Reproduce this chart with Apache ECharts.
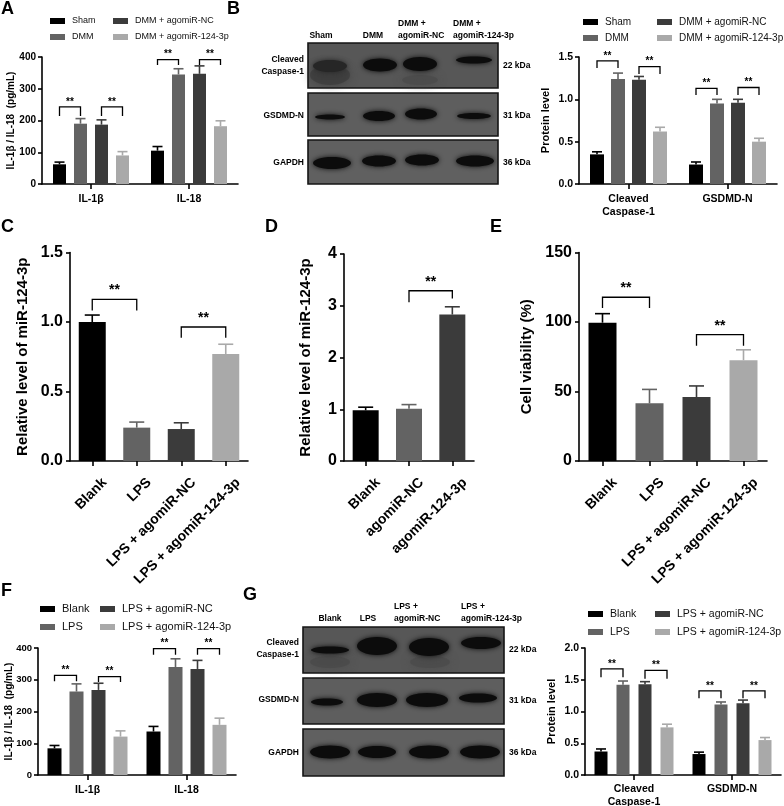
<!DOCTYPE html>
<html>
<head>
<meta charset="utf-8">
<script src="https://cdn.jsdelivr.net/npm/echarts/dist/echarts.min.js"></script>
<style>
html,body{margin:0;padding:0;background:#fff;}
#chart{width:784px;height:806px;}
</style>
</head>
<body>
<div id="chart"></div>
<script>
// ================= DATA =================
// Panel A (in vivo, DMM)
const A_categories = ['IL-1β', 'IL-18'];
const A_groups = ['Sham', 'DMM', 'DMM + agomiR-NC', 'DMM + agomiR-124-3p'];
const A_sham = [62, 105];
const A_sham_err = [7, 13];
const A_dmm = [190, 345];
const A_dmm_err = [16, 18];
const A_nc = [187, 347];
const A_nc_err = [15, 25];
const A_ago = [90, 182];
const A_ago_err = [12, 17];
const A_ticks = [0, 100, 200, 300, 400];
// brackets: [category, groupFrom, groupTo, barY, legEndFrom, legEndTo]
const A_brackets = [[0, 0, 1, 243, 214, 214], [0, 2, 3, 243, 214, 214], [1, 0, 1, 392, 375, 375], [1, 2, 3, 392, 375, 375]];

// Panel B (protein level, DMM)
const B_categories = ['Cleaved\nCaspase-1', 'GSDMD-N'];
const B_sham = [0.35, 0.23];
const B_sham_err = [0.03, 0.03];
const B_dmm = [1.24, 0.95];
const B_dmm_err = [0.07, 0.05];
const B_nc = [1.23, 0.96];
const B_nc_err = [0.04, 0.04];
const B_ago = [0.62, 0.50];
const B_ago_err = [0.05, 0.04];
const B_ticks = [0, 0.5, 1.0, 1.5];
const B_brackets = [[0, 0, 1, 1.455, 1.37, 1.37], [0, 2, 3, 1.387, 1.30, 1.30], [1, 0, 1, 1.13, 1.05, 1.05], [1, 2, 3, 1.14, 1.05, 1.05]];
const B_lanes = ['Sham', 'DMM', 'DMM +\nagomiR-NC', 'DMM +\nagomiR-124-3p'];
const B_rows = ['Cleaved\nCaspase-1', 'GSDMD-N', 'GAPDH'];
const B_kda = ['22 kDa', '31 kDa', '36 kDa'];

// Panel C
const C_categories = ['Blank', 'LPS', 'LPS + agomiR-NC', 'LPS + agomiR-124-3p'];
const C_values = [1.0, 0.24, 0.23, 0.77];
const C_err = [0.05, 0.04, 0.045, 0.07];
const C_ticks = [0, 0.5, 1.0, 1.5];
// brackets: [catFrom, catTo, barY, legEndFrom, legEndTo]
const C_brackets = [[0, 1, 1.163, 1.083, 1.083], [2, 3, 0.964, 0.887, 0.887]];

// Panel D
const D_categories = ['Blank', 'agomiR-NC', 'agomiR-124-3p'];
const D_values = [0.98, 1.01, 2.83];
const D_err = [0.06, 0.08, 0.15];
const D_ticks = [0, 1, 2, 3, 4];
const D_brackets = [[1, 2, 3.29, 3.07, 3.14]];

// Panel E
const E_categories = ['Blank', 'LPS', 'LPS + agomiR-NC', 'LPS + agomiR-124-3p'];
const E_values = [99.5, 41.5, 46, 72.5];
const E_err = [6.5, 10, 8, 7.5];
const E_ticks = [0, 50, 100, 150];
const E_brackets = [[0, 1, 117.8, 110, 110], [2, 3, 90.9, 83, 83]];

// Panel F
const F_categories = ['IL-1β', 'IL-18'];
const F_groups = ['Blank', 'LPS', 'LPS + agomiR-NC', 'LPS + agomiR-124-3p'];
const F_blank = [84, 137];
const F_blank_err = [9, 16];
const F_lps = [263, 340];
const F_lps_err = [24, 26];
const F_nc = [268, 334];
const F_nc_err = [21, 27];
const F_ago = [121, 158];
const F_ago_err = [18, 21];
const F_ticks = [0, 100, 200, 300, 400];
const F_brackets = [[0, 0, 1, 314, 295, 295], [0, 2, 3, 310, 293, 293], [1, 0, 1, 398, 379, 379], [1, 2, 3, 398, 379, 379]];

// Panel G
const G_categories = ['Cleaved\nCaspase-1', 'GSDMD-N'];
const G_blank = [0.37, 0.33];
const G_blank_err = [0.04, 0.03];
const G_lps = [1.42, 1.11];
const G_lps_err = [0.06, 0.04];
const G_nc = [1.43, 1.13];
const G_nc_err = [0.04, 0.05];
const G_ago = [0.75, 0.55];
const G_ago_err = [0.05, 0.04];
const G_ticks = [0, 0.5, 1.0, 1.5, 2.0];
const G_brackets = [[0, 0, 1, 1.67, 1.54, 1.54], [0, 2, 3, 1.647, 1.516, 1.516], [1, 0, 1, 1.326, 1.21, 1.21], [1, 2, 3, 1.326, 1.21, 1.21]];
const G_lanes = ['Blank', 'LPS', 'LPS +\nagomiR-NC', 'LPS +\nagomiR-124-3p'];
const G_rows = ['Cleaved\nCaspase-1', 'GSDMD-N', 'GAPDH'];
const G_kda = ['22 kDa', '31 kDa', '36 kDa'];

// ================= STYLE / LAYOUT =================
const FONT = '"Liberation Sans", Arial, sans-serif';
const COLORS = ['#000000', '#636363', '#3b3b3b', '#a9a9a9'];

const grids = [], xAxes = [], yAxes = [], series = [], legends = [], graphics = [];

function addPanel(cfg) {
  const gi = grids.length;
  grids.push({left: cfg.left, top: cfg.top, width: cfg.width, height: cfg.height, containLabel: false, outerBoundsMode: 'none'});
  const rot = cfg.rotate || 0;
  xAxes.push({
    type: 'category', gridIndex: gi, data: cfg.cats,
    axisLine: {show: true, onZero: false, lineStyle: {color: '#000', width: 1.6}},
    axisTick: {show: true, alignWithLabel: true, length: 5, lineStyle: {color: '#000', width: 1.6}},
    axisLabel: Object.assign({show: true, interval: 0, color: '#000', fontFamily: FONT, fontWeight: 'bold', fontSize: cfg.xFont,
      margin: cfg.xMargin, lineHeight: cfg.xFont + 3, rotate: rot, hideOverlap: false},
      rot ? {verticalAlign: 'top', padding: [cfg.xPad || 0, 0, 0, 0]} : {}),
    splitLine: {show: false}
  });
  const t = cfg.ticks;
  yAxes.push({
    type: 'value', gridIndex: gi, min: t[0], max: t[t.length - 1], interval: t[1] - t[0],
    axisLine: {show: true, lineStyle: {color: '#000', width: 1.6}},
    axisTick: {show: true, length: 4, lineStyle: {color: '#000', width: 1.6}},
    axisLabel: {show: true, color: '#000', fontFamily: FONT, fontWeight: 'bold', fontSize: cfg.yFont, margin: cfg.yMargin,
      formatter: v => cfg.decimals ? Number(v).toFixed(cfg.decimals) : String(v)},
    splitLine: {show: false},
    name: cfg.yName, nameLocation: 'middle', nameGap: cfg.nameGap, nameRotate: 90, nameMoveOverlap: false,
    nameTextStyle: {color: '#000', fontFamily: FONT, fontWeight: 'bold', fontSize: cfg.nameFont}
  });

  const n = cfg.groupValues.length;          // bars per category
  const step = cfg.barWidth + cfg.gapPx;
  const offs = k => (k - (n - 1) / 2) * step;

  cfg.groupValues.forEach((vals, k) => {
    series.push({
      type: 'bar', name: cfg.groupNames ? cfg.groupNames[k] : 'bars', xAxisIndex: gi, yAxisIndex: gi,
      itemStyle: {color: COLORS[k]},
      data: vals.map((v, c) => ({value: v, itemStyle: {color: cfg.colorOf(k, c)}})),
      barWidth: cfg.barWidth, barGap: (cfg.gapPx / cfg.barWidth * 100) + '%',
      silent: true, animation: false, z: 2
    });
  });

  // error bars
  const errData = [];
  cfg.groupValues.forEach((vals, k) => vals.forEach((v, c) => errData.push([c, v, cfg.groupErrs[k][c], k])));
  series.push({
    type: 'custom', xAxisIndex: gi, yAxisIndex: gi, data: errData, clip: false, silent: true, animation: false, z: 3,
    renderItem: (params, api) => {
      const c = api.value(0), v = api.value(1), e = api.value(2), k = api.value(3);
      const p0 = api.coord([c, v]), p1 = api.coord([c, v + e]);
      const x = p0[0] + offs(k);
      const col = cfg.colorOf(k, c);
      return {type: 'group', children: [
        {type: 'line', shape: {x1: x, y1: p0[1], x2: x, y2: p1[1]}, style: {stroke: col, lineWidth: 1.6}},
        {type: 'line', shape: {x1: x - cfg.cap, y1: p1[1], x2: x + cfg.cap, y2: p1[1]}, style: {stroke: col, lineWidth: 1.6}}
      ]};
    }
  });

  // significance brackets: [c1, k1, c2, k2, y, l1, l2]
  series.push({
    type: 'custom', xAxisIndex: gi, yAxisIndex: gi, data: cfg.brackets, clip: false, silent: true, animation: false, z: 4,
    renderItem: (params, api) => {
      const c1 = api.value(0), k1 = api.value(1), c2 = api.value(2), k2 = api.value(3);
      const y = api.value(4), l1 = api.value(5), l2 = api.value(6);
      const xa = api.coord([c1, y])[0] + offs(k1);
      const xb = api.coord([c2, y])[0] + offs(k2);
      const yy = api.coord([c1, y])[1];
      const ya = api.coord([c1, l1])[1];
      const yb = api.coord([c2, l2])[1];
      return {type: 'group', children: [
        {type: 'polyline', shape: {points: [[xa, ya], [xa, yy], [xb, yy], [xb, yb]]}, style: {stroke: '#000', lineWidth: 1.3, fill: null}},
        {type: 'text', x: (xa + xb) / 2, y: yy - cfg.starGap,
          style: {text: '**', fill: '#000', fontFamily: FONT, fontWeight: 'bold', fontSize: cfg.starFont, align: 'center', verticalAlign: 'bottom'}}
      ]};
    }
  });
}

function groupedBrackets(arr) { return arr.map(b => [b[0], b[1], b[0], b[2], b[3], b[4], b[5]]); }
function simpleBrackets(arr) { return arr.map(b => [b[0], 0, b[1], 0, b[2], b[3], b[4]]); }

function addLegend(left, top, names, fontSize, gap) {
  legends.push({
    orient: 'vertical', left: left, top: top, padding: 0, itemGap: gap, itemWidth: 15, itemHeight: 6,
    icon: 'rect', selectedMode: false, data: names,
    textStyle: {color: '#111', fontFamily: FONT, fontSize: fontSize, lineHeight: 12, padding: [0, 0, 0, 2]}
  });
}

function txt(x, y, s, o) {
  o = o || {};
  graphics.push({type: 'text', x: x, y: y, silent: true, z: 10,
    style: {text: s, fill: '#000', fontFamily: FONT, fontWeight: o.weight || 'bold', fontSize: o.size || 9,
      align: o.align || 'left', verticalAlign: o.va || 'middle', lineHeight: o.lh || 11}});
}

// Western blot drawing (image content, drawn as shapes)
function blot(cfg) {
  cfg.rows.forEach((r, ri) => {
    graphics.push({type: 'rect', silent: true, z: 5, shape: {x: cfg.x0, y: r.y0, width: cfg.x1 - cfg.x0, height: r.y1 - r.y0},
      style: {fill: r.bg, stroke: '#151515', lineWidth: 1.6}});
    (r.smudges || []).forEach(s => graphics.push({type: 'ellipse', silent: true, z: 6,
      shape: {cx: s[0], cy: s[1], rx: s[2], ry: s[3]}, style: {fill: s[4], shadowBlur: 8, shadowColor: s[4], opacity: 0.7}}));
    r.bands.forEach((b, i) => {
      graphics.push({type: 'ellipse', silent: true, z: 7,
        shape: {cx: cfg.lanes[i] + (b[0] || 0), cy: b[1], rx: b[2], ry: b[3]},
        style: {fill: b[4] || '#0c0c0c', shadowBlur: 5, shadowColor: b[4] || '#0c0c0c'}});
    });
    txt(cfg.x0 - 4, r.labelY, cfg.rowNames[ri], {align: 'right', size: 8.5, lh: 12});
    txt(cfg.x1 + 5, r.kY, cfg.kda[ri], {size: 8.5});
  });
  cfg.heads.forEach(h => txt(h[0], h[1], h[2], {align: h[3], size: 8.5, lh: 12, va: 'bottom'}));
}

// ---------- Panel A ----------
addPanel({
  left: 42, top: 57, width: 196, height: 127,
  cats: A_categories, ticks: A_ticks, groupNames: A_groups,
  groupValues: [A_sham, A_dmm, A_nc, A_ago], groupErrs: [A_sham_err, A_dmm_err, A_nc_err, A_ago_err],
  colorOf: k => COLORS[k], barWidth: 13, gapPx: 8, cap: 5,
  xFont: 10.5, xMargin: 8, yFont: 10, yMargin: 6, yName: 'IL-1β / IL-18  (pg/mL)', nameGap: 26, nameFont: 10,
  brackets: groupedBrackets(A_brackets), starGap: 0, starFont: 10
});
addLegend(50, 15, [A_groups[0], A_groups[1]], 9, 4);
addLegend(113, 15, [A_groups[2], A_groups[3]], 9, 4);

// ---------- Panel B (chart) ----------
addPanel({
  left: 579, top: 57, width: 198, height: 127,
  cats: B_categories, ticks: B_ticks, groupNames: A_groups, decimals: 1,
  groupValues: [B_sham, B_dmm, B_nc, B_ago], groupErrs: [B_sham_err, B_dmm_err, B_nc_err, B_ago_err],
  colorOf: k => COLORS[k], barWidth: 14, gapPx: 7, cap: 5,
  xFont: 10.5, xMargin: 8, yFont: 10.5, yMargin: 6, yName: 'Protein level', nameGap: 28, nameFont: 11,
  brackets: groupedBrackets(B_brackets), starGap: 0, starFont: 10
});
addLegend(583, 16, [A_groups[0], A_groups[1]], 10, 4);
addLegend(657, 16, [A_groups[2], A_groups[3]], 10, 4);

// ---------- Panel C ----------
addPanel({
  left: 70, top: 252.5, width: 178, height: 208.5,
  cats: C_categories, ticks: C_ticks, decimals: 1,
  groupValues: [C_values], groupErrs: [C_err],
  colorOf: (k, c) => COLORS[c], barWidth: 27, gapPx: 0, cap: 7.5,
  xFont: 14, xMargin: 7, xPad: 9, rotate: 45, yFont: 16, yMargin: 7, yName: 'Relative level of miR-124-3p', nameGap: 40, nameFont: 15,
  brackets: simpleBrackets(C_brackets), starGap: 2, starFont: 14
});

// ---------- Panel D ----------
addPanel({
  left: 344, top: 254, width: 130, height: 207,
  cats: D_categories, ticks: D_ticks,
  groupValues: [D_values], groupErrs: [D_err],
  colorOf: (k, c) => COLORS[c], barWidth: 26, gapPx: 0, cap: 7.5,
  xFont: 14, xMargin: 7, xPad: 9, rotate: 45, yFont: 16, yMargin: 7, yName: 'Relative level of miR-124-3p', nameGap: 31, nameFont: 15,
  brackets: simpleBrackets(D_brackets), starGap: 2, starFont: 14
});

// ---------- Panel E ----------
addPanel({
  left: 579, top: 252.5, width: 188, height: 208.5,
  cats: E_categories, ticks: E_ticks,
  groupValues: [E_values], groupErrs: [E_err],
  colorOf: (k, c) => COLORS[c], barWidth: 28, gapPx: 0, cap: 7.5,
  xFont: 14, xMargin: 7, xPad: 9, rotate: 45, yFont: 16, yMargin: 7, yName: 'Cell viability (%)', nameGap: 45, nameFont: 15,
  brackets: simpleBrackets(E_brackets), starGap: 2, starFont: 14
});

// ---------- Panel F ----------
addPanel({
  left: 38, top: 648, width: 198, height: 127,
  cats: F_categories, ticks: F_ticks, groupNames: F_groups,
  groupValues: [F_blank, F_lps, F_nc, F_ago], groupErrs: [F_blank_err, F_lps_err, F_nc_err, F_ago_err],
  colorOf: k => COLORS[k], barWidth: 14, gapPx: 8, cap: 5,
  xFont: 10.5, xMargin: 8, yFont: 9.5, yMargin: 6, yName: 'IL-1β / IL-18  (pg/mL)', nameGap: 24, nameFont: 10,
  brackets: groupedBrackets(F_brackets), starGap: 0, starFont: 10
});
addLegend(40, 603, [F_groups[0], F_groups[1]], 11, 6);
addLegend(100, 603, [F_groups[2], F_groups[3]], 11, 6);

// ---------- Panel G (chart) ----------
addPanel({
  left: 585, top: 648, width: 196, height: 127,
  cats: G_categories, ticks: G_ticks, groupNames: F_groups, decimals: 1,
  groupValues: [G_blank, G_lps, G_nc, G_ago], groupErrs: [G_blank_err, G_lps_err, G_nc_err, G_ago_err],
  colorOf: k => COLORS[k], barWidth: 13, gapPx: 9, cap: 5,
  xFont: 10.5, xMargin: 7, yFont: 10.5, yMargin: 6, yName: 'Protein level', nameGap: 28, nameFont: 11,
  brackets: groupedBrackets(G_brackets), starGap: 0, starFont: 10
});
addLegend(588, 608, [F_groups[0], F_groups[1]], 10.5, 6);
addLegend(655, 608, [F_groups[2], F_groups[3]], 10.5, 6);

// ---------- Blot B ----------
blot({
  x0: 308, x1: 498, lanes: [332, 379, 421, 474], rowNames: B_rows, kda: B_kda,
  heads: [[321, 42, B_lanes[0], 'center'], [373, 42, B_lanes[1], 'center'], [398, 42, B_lanes[2], 'left'], [453, 42, B_lanes[3], 'left']],
  rows: [
    {y0: 43, y1: 88, bg: '#575757', labelY: 66, kY: 66,
      smudges: [[330, 75, 20, 10, '#3a3a3a'], [420, 80, 18, 5, '#4a4a4a']],
      bands: [[-2, 66, 17, 6, '#262626'], [1, 65, 17, 6.5], [-1, 64, 17, 7], [0, 60, 18, 3.5]]},
    {y0: 93, y1: 136, bg: '#5e5e5e', labelY: 116, kY: 116,
      bands: [[-2, 117, 15, 2.5], [0, 116, 16, 5], [0, 114, 16, 5.5], [0, 116, 17, 3]]},
    {y0: 140, y1: 184, bg: '#606060', labelY: 163, kY: 163,
      bands: [[0, 163, 19, 6], [0, 161, 17, 5.5], [1, 160, 17, 5.5], [1, 161, 19, 5.5]]}
  ]
});

// ---------- Blot G ----------
blot({
  x0: 303, x1: 504, lanes: [330, 377, 429, 480], rowNames: G_rows, kda: G_kda,
  heads: [[330, 625, G_lanes[0], 'center'], [368, 625, G_lanes[1], 'center'], [394, 625, G_lanes[2], 'left'], [461, 625, G_lanes[3], 'left']],
  rows: [
    {y0: 627, y1: 673, bg: '#575757', labelY: 649, kY: 650,
      smudges: [[330, 662, 20, 6, '#494949'], [430, 662, 20, 6, '#4a4a4a']],
      bands: [[0, 650, 19, 3.5], [0, 646, 20, 9], [0, 647, 20, 9], [1, 643, 20, 6]]},
    {y0: 678, y1: 724, bg: '#5e5e5e', labelY: 700, kY: 701,
      bands: [[-3, 702, 16, 3.5], [0, 700, 20, 7], [-2, 700, 21, 7], [-2, 698, 19, 4.5]]},
    {y0: 729, y1: 776, bg: '#606060', labelY: 753, kY: 753,
      bands: [[0, 752, 20, 6.5], [0, 752, 19, 6], [0, 752, 20, 6.5], [0, 752, 20, 6.5]]}
  ]
});

// ---------- Panel letters ----------
[['A', 1, 9], ['B', 227, 9], ['C', 1, 227], ['D', 265, 227], ['E', 490, 227], ['F', 1, 591], ['G', 243, 595]]
  .forEach(l => txt(l[1], l[2], l[0], {size: 18}));

const chart = echarts.init(document.getElementById('chart'), null, {renderer: 'canvas'});
chart.setOption({
  backgroundColor: '#fff',
  animation: false,
  textStyle: {fontFamily: FONT},
  grid: grids, xAxis: xAxes, yAxis: yAxes, legend: legends, series: series,
  graphic: {elements: graphics}
});
</script>
</body>
</html>
